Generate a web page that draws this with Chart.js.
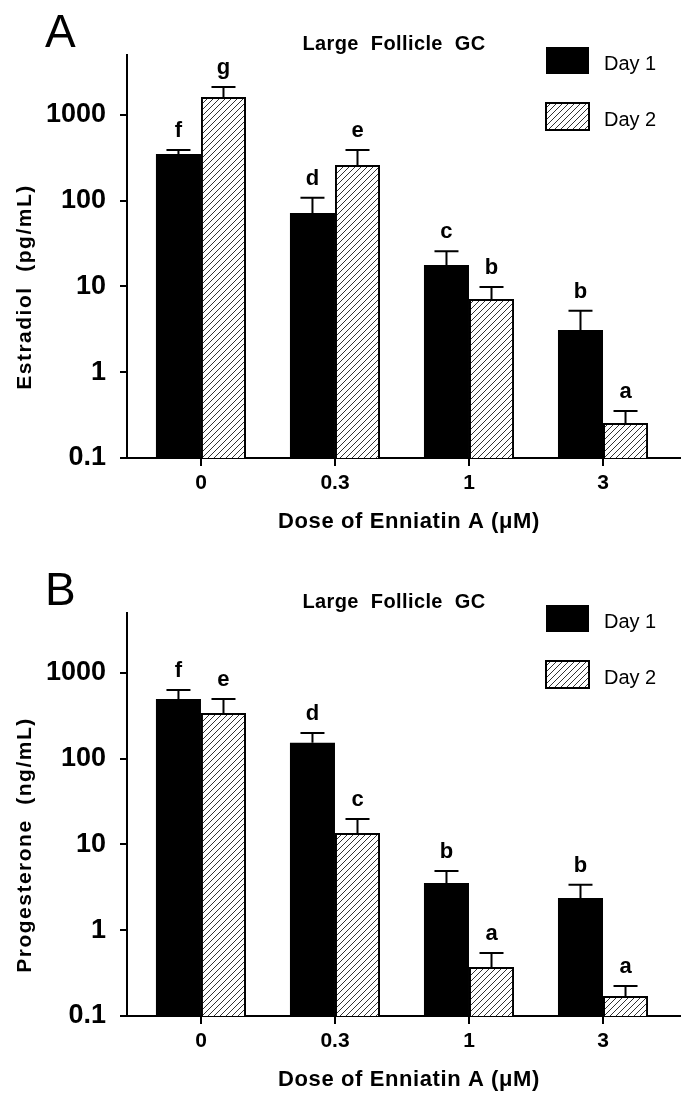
<!DOCTYPE html>
<html>
<head>
<meta charset="utf-8">
<script src="https://cdn.jsdelivr.net/npm/chart.js@4.4.1/dist/chart.umd.min.js"></script>
<style>
  html, body { margin: 0; padding: 0; background: #fff; }
  canvas { position: absolute; left: 0; }
</style>
</head>
<body>
<canvas id="chartA" width="681" height="558" style="top:0"></canvas>
<canvas id="chartB" width="681" height="535" style="top:558px"></canvas>
<script>
// doses (uM) and log axis ticks
const doses = ['0', '0.3', '1', '3'];
const yTicks = [0.1, 1, 10, 100, 1000];
const seriesNames = ['Day 1', 'Day 2'];

// panel A - estradiol (pg/mL), mean and SEM
const estradiolDay1 = [351, 72, 17.8, 3.1];
const estradiolDay1Sem = [40, 36, 8, 2.1];
const estradiolDay2 = [1620, 261, 7.15, 0.256];
const estradiolDay2Sem = [500, 130, 2.7, 0.097];
const estradiolDay1Letters = ['f', 'd', 'c', 'b'];
const estradiolDay2Letters = ['g', 'e', 'b', 'a'];

// panel B - progesterone (ng/mL), mean and SEM
const progesteroneDay1 = [498, 153, 3.56, 2.38];
const progesteroneDay1Sem = [136, 47, 1.35, 1.0];
const progesteroneDay2 = [342, 13.6, 0.373, 0.171];
const progesteroneDay2Sem = [156, 6.2, 0.17, 0.053];
const progesteroneDay1Letters = ['f', 'd', 'b', 'b'];
const progesteroneDay2Letters = ['e', 'c', 'a', 'a'];

const FONT = 'Arial, "Liberation Sans", sans-serif';

function hatch() {
    const s = 6;
    const c = document.createElement('canvas');
    c.width = s; c.height = s;
    const g = c.getContext('2d');
    g.fillStyle = '#fff';
    g.fillRect(0, 0, s, s);
    g.strokeStyle = '#333';
    g.lineWidth = 1;
    g.beginPath();
    g.moveTo(0, s); g.lineTo(s, 0);
    g.moveTo(-1, 1); g.lineTo(1, -1);
    g.moveTo(s - 1, s + 1); g.lineTo(s + 1, s - 1);
    g.stroke();
    return g.createPattern(c, 'repeat');
}

const annotate = {
    id: 'annotate',
    afterDatasetsDraw(chart) {
        const ctx = chart.ctx;
        const y = chart.scales.y;
        ctx.save();
        chart.data.datasets.forEach((ds, di) => {
            chart.getDatasetMeta(di).data.forEach((bar, i) => {
                const top = y.getPixelForValue(ds.data[i].y + ds.sem[i]);
                ctx.strokeStyle = '#000';
                ctx.lineWidth = 2;
                ctx.beginPath();
                ctx.moveTo(bar.x, bar.y);
                ctx.lineTo(bar.x, top);
                ctx.moveTo(bar.x - 12, top);
                ctx.lineTo(bar.x + 12, top);
                ctx.stroke();
                ctx.fillStyle = '#000';
                ctx.font = 'bold 22px ' + FONT;
                ctx.textAlign = 'center';
                ctx.textBaseline = 'alphabetic';
                ctx.fillText(ds.letters[i], bar.x, top - 13);
            });
        });
        ctx.restore();
    },
    afterDraw(chart, args, opts) {
        const ctx = chart.ctx;
        ctx.save();
        ctx.fillStyle = '#000';

        // panel letter
        ctx.font = '46px ' + FONT;
        ctx.textAlign = 'left';
        ctx.fillText(opts.panel, 45, 47);

        // title
        ctx.font = 'bold 20px ' + FONT;
        ctx.letterSpacing = '0.4px';
        ctx.textAlign = 'center';
        ctx.fillText('Large  Follicle  GC', 394, 50);

        // legend
        ctx.letterSpacing = '0px';
        chart.data.datasets.forEach((ds, i) => {
            const by = 47 + i * 56;
            ctx.fillStyle = ds.backgroundColor;
            ctx.fillRect(546, by, 43, 27);
            if (ds.borderWidth) {
                ctx.strokeStyle = '#000';
                ctx.lineWidth = 2;
                ctx.strokeRect(546, by, 43, 27);
            }
            ctx.fillStyle = '#000';
            ctx.font = '20px ' + FONT;
            ctx.textAlign = 'left';
            ctx.fillText(ds.label, 604, by + 23);
        });

        // axis titles
        ctx.font = 'bold 22px ' + FONT;
        ctx.letterSpacing = '0.6px';
        ctx.textAlign = 'center';
        ctx.fillText('Dose of Enniatin A (\u03BCM)', 409, 528);

        ctx.translate(25, 287);
        ctx.rotate(-Math.PI / 2);
        ctx.font = 'bold 21px ' + FONT;
        ctx.letterSpacing = '1.5px';
        ctx.textBaseline = 'middle';
        ctx.fillText(opts.yTitle, 0, 0);
        ctx.restore();
    }
};

function makeChart(id, day1, day1Sem, day1Letters, day2, day2Sem, day2Letters, panel, yTitle) {
    const canvas = document.getElementById(id);
    const H = canvas.height;
    return new Chart(canvas, {
        type: 'bar',
        data: {
            datasets: [{
                label: seriesNames[0],
                data: day1.map((v, i) => ({ x: i, y: v })),
                sem: day1Sem,
                letters: day1Letters,
                backgroundColor: '#000',
                borderWidth: 0,
            }, {
                label: seriesNames[1],
                data: day2.map((v, i) => ({ x: i, y: v })),
                sem: day2Sem,
                letters: day2Letters,
                backgroundColor: hatch(),
                borderColor: '#000',
                borderWidth: 2,
            }]
        },
        options: {
            responsive: false,
            animation: false,
            categoryPercentage: 0.672,
            barPercentage: 1,
            layout: { padding: { top: 55, right: 0, bottom: 0, left: 0 } },
            plugins: {
                legend: { display: false },
                tooltip: { enabled: false },
                annotate: { panel: panel, yTitle: yTitle },
            },
            scales: {
                x: {
                    type: 'linear',
                    min: -0.552,
                    max: 3.582,
                    offset: false,
                    afterBuildTicks: s => { s.ticks = doses.map((d, i) => ({ value: i })); },
                    afterFit: s => { s.height = H - 458; },
                    ticks: {
                        callback: v => doses[v],
                        font: { family: FONT, size: 21, weight: 'bold' },
                        color: '#000',
                        padding: 5,
                        autoSkip: false,
                        maxRotation: 0,
                    },
                    grid: { drawOnChartArea: false, tickLength: 8, color: '#000', lineWidth: 2, offset: false },
                    border: { color: '#000', width: 2 },
                },
                y: {
                    type: 'logarithmic',
                    min: 0.1,
                    max: 5000,
                    afterBuildTicks: s => { s.ticks = yTicks.map(v => ({ value: v })); },
                    afterFit: s => { s.width = 127; },
                    ticks: {
                        callback: v => String(v),
                        font: { family: FONT, size: 27, weight: 'bold' },
                        color: '#000',
                        padding: 14,
                    },
                    grid: { drawOnChartArea: false, tickLength: 7, color: '#000', lineWidth: 2 },
                    border: { color: '#000', width: 2 },
                }
            }
        },
        plugins: [annotate]
    });
}

makeChart('chartA', estradiolDay1, estradiolDay1Sem, estradiolDay1Letters,
    estradiolDay2, estradiolDay2Sem, estradiolDay2Letters, 'A', 'Estradiol  (pg/mL)');
makeChart('chartB', progesteroneDay1, progesteroneDay1Sem, progesteroneDay1Letters,
    progesteroneDay2, progesteroneDay2Sem, progesteroneDay2Letters, 'B', 'Progesterone  (ng/mL)');
</script>
</body>
</html>
